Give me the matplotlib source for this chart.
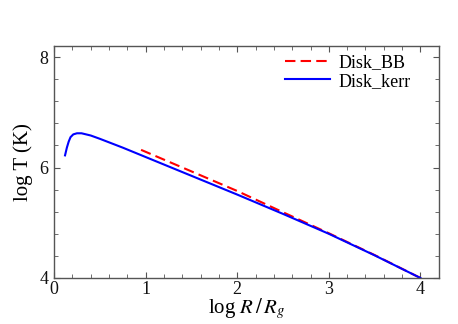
import matplotlib
matplotlib.use("Agg")
import matplotlib.pyplot as plt
from matplotlib.ticker import MultipleLocator

plt.rcParams['font.family'] = ['Liberation Serif', 'DejaVu Serif']
plt.rcParams['mathtext.fontset'] = 'stix'

# Disk_kerr (blue solid)
kerr_x = [0.12, 0.14, 0.16, 0.18, 0.21, 0.25, 0.30, 0.40, 0.50, 0.75, 1.0, 1.5, 2.0, 2.5, 3.0, 3.5, 4.0]
kerr_y = [6.22, 6.36, 6.47, 6.55, 6.60, 6.62, 6.62, 6.58, 6.52, 6.36, 6.19, 5.85, 5.51, 5.16, 4.80, 4.41, 4.00]
# Disk_BB (red dashed)
bb_x = [0.95, 1.5, 2.0, 2.5, 3.0, 3.5, 4.0]
bb_y = [6.32, 5.93, 5.575, 5.19, 4.81, 4.415, 4.00]

fig = plt.figure(figsize=(4.58, 3.24), dpi=100)
ax = fig.add_axes([0.118, 0.142, 0.840, 0.716])

ax.plot(bb_x, bb_y, color='#ff0000', ls=(0, (5, 2.5)), lw=1.5, label='Disk_BB')
ax.plot(kerr_x, kerr_y, color='#0000ff', lw=1.5, label='Disk_kerr')

ax.set_xlim(0, 4.2)
ax.set_ylim(4, 8.2)
ax.xaxis.set_major_locator(MultipleLocator(1))
ax.xaxis.set_minor_locator(MultipleLocator(0.2))
ax.yaxis.set_major_locator(MultipleLocator(2))
ax.yaxis.set_minor_locator(MultipleLocator(0.4))
ax.tick_params(which='both', direction='in', top=True, right=True, labelsize=13,
               colors='#555555', labelcolor='#111111')
ax.tick_params(axis='x', pad=2)
ax.tick_params(axis='y', pad=4)
ax.tick_params(which='major', length=4)
ax.tick_params(which='minor', length=3)
for s in ax.spines.values():
    s.set_color('#555555')
    s.set_linewidth(1.0)

ax.set_xlabel('log $R\\,/\\,R_g$', fontsize=15, labelpad=-1)
ax.set_ylabel('log T (K)', fontsize=15, labelpad=5)

ax.legend(loc='upper left', frameon=False, fontsize=13, handlelength=2.5,
          handletextpad=0.45, labelspacing=0.1, borderpad=0, borderaxespad=0,
          bbox_to_anchor=(0.60, 0.966))

fig.savefig('out.png', dpi=100)
